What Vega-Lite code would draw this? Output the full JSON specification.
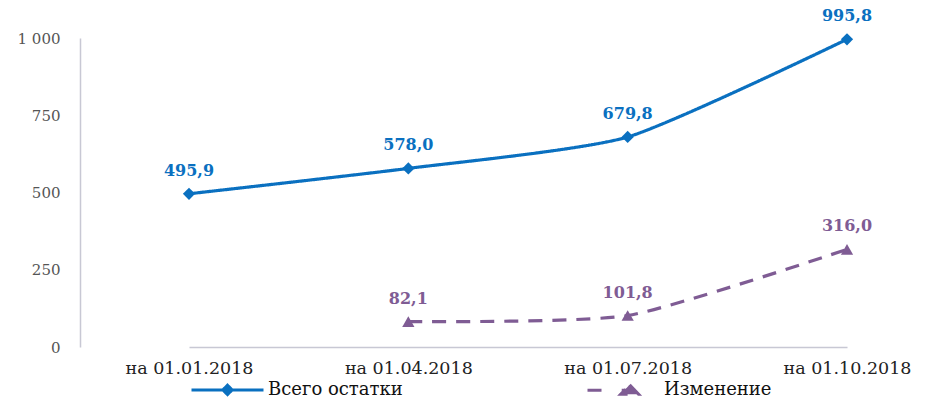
{
  "$schema": "https://vega.github.io/schema/vega-lite/v6.json",
  "autosize": {"type": "none"},
  "width": 860,
  "height": 309,
  "padding": {"left": 80, "top": 38, "right": 6, "bottom": 54},
  "background": "white",
  "config": {"view": {"stroke": null}, "legend": {"labelFont": "DejaVu Serif", "labelFontSize": 18}},
  "data": {
    "values": [
      {"date": "на 01.01.2018", "series": "Всего остатки", "value": 495.9, "label": "495,9"},
      {"date": "на 01.04.2018", "series": "Всего остатки", "value": 578.0, "label": "578,0"},
      {"date": "на 01.07.2018", "series": "Всего остатки", "value": 679.8, "label": "679,8"},
      {"date": "на 01.10.2018", "series": "Всего остатки", "value": 995.8, "label": "995,8"},
      {"date": "на 01.04.2018", "series": "Изменение", "value": 82.1, "label": "82,1"},
      {"date": "на 01.07.2018", "series": "Изменение", "value": 101.8, "label": "101,8"},
      {"date": "на 01.10.2018", "series": "Изменение", "value": 316.0, "label": "316,0"}
    ]
  },
  "encoding": {
    "x": {
      "field": "date", "type": "ordinal", "sort": null,
      "scale": {"type": "point", "range": [109, 767], "padding": 0},
      "axis": {
        "title": null, "labelAngle": 0, "ticks": false, "grid": false,
        "domainColor": "#c8c8d4", "domainWidth": 1.5,
        "labelFont": "DejaVu Serif", "labelFontSize": 17.5, "labelColor": "#222222",
        "labelPadding": 12
      }
    },
    "y": {
      "field": "value", "type": "quantitative",
      "scale": {"domain": [0, 1000], "nice": false},
      "axis": {
        "title": null, "values": [0, 250, 500, 750, 1000], "ticks": false, "grid": false,
        "domainColor": "#c8c8d4", "domainWidth": 1.5,
        "labelFont": "DejaVu Serif", "labelFontSize": 15, "labelColor": "#555555",
        "labelPadding": 20,
        "labelExpr": "replace(format(datum.value, ','), ',', ' ')"
      }
    },
    "color": {
      "field": "series", "type": "nominal",
      "scale": {"domain": ["Всего остатки", "Изменение"], "range": ["#0a70c0", "#7f5c94"]},
      "legend": {
        "title": null, "orient": "none", "legendX": 110, "legendY": 314,
        "direction": "horizontal", "columnPadding": 178,
        "symbolSize": 5184, "symbolStrokeWidth": 3,
        "labelFont": "DejaVu Serif", "labelFontSize": 18, "labelColor": "#111111",
        "labelOffset": 3,
        "encode": {
          "symbols": {
            "update": {
              "shape": {"signal": "datum.value === 'Всего остатки' ? 'M-1,0H1M0,-0.13L0.13,0L0,0.13L-0.13,0Z' : 'M-1,0H-0.45M-0.05,0H0.55M0.17,-0.15L0.42,0.11L-0.08,0.11Z'"},
              "fill": {"signal": "scale('color', datum.value)"},
              "stroke": {"signal": "scale('color', datum.value)"},
              "strokeWidth": {"value": 3},
              "strokeDash": {"value": [1, 0]},
              "opacity": {"value": 1}
            }
          }
        }
      }
    }
  },
  "layer": [
    {
      "mark": {"type": "line", "strokeWidth": 3.2, "interpolate": "cardinal", "tension": 0.4},
      "encoding": {
        "strokeDash": {
          "field": "series", "type": "nominal",
          "scale": {"domain": ["Всего остатки", "Изменение"], "range": [[1, 0], [14, 10]]},
          "legend": null
        }
      }
    },
    {
      "transform": [{"filter": "datum.series === 'Всего остатки'"}],
      "mark": {"type": "point", "filled": true, "size": 150, "opacity": 1, "shape": "diamond"}
    },
    {
      "transform": [{"filter": "datum.series === 'Изменение'"}],
      "mark": {"type": "point", "filled": true, "size": 150, "opacity": 1, "shape": "triangle-up"}
    },
    {
      "mark": {"type": "text", "dy": -23, "font": "DejaVu Serif", "fontSize": 16, "fontWeight": "bold"},
      "encoding": {"text": {"field": "label"}}
    }
  ]
}
